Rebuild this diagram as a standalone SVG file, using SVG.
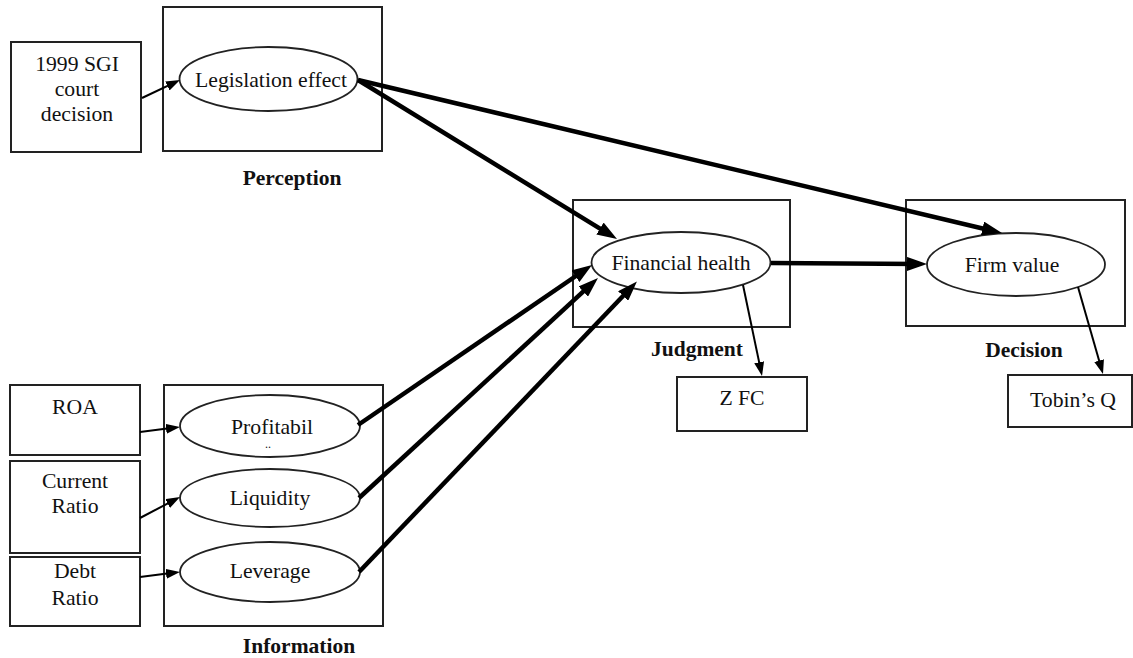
<svg xmlns="http://www.w3.org/2000/svg" width="1133" height="658" viewBox="0 0 1133 658">
<style>
.box{fill:#fff;stroke:#222;stroke-width:2}
.ell{fill:#fff;stroke:#222;stroke-width:1.8}
.t{font-family:"Liberation Serif","Times New Roman",serif;font-size:21.7px;fill:#111;text-anchor:middle}
.b{font-weight:bold;font-size:21.5px}
.thick{fill:none;stroke:#000;stroke-width:4.5;marker-end:url(#ah)}
.thin{fill:none;stroke:#000;stroke-width:2;marker-end:url(#as)}
</style>
<defs>
<marker id="ah" viewBox="0 0 20 14" markerWidth="20" markerHeight="14" refX="12" refY="7" orient="auto" markerUnits="userSpaceOnUse"><path d="M0,0 L20,7 L0,14 z" fill="#000"/></marker>
<marker id="as" viewBox="0 0 14 10" markerWidth="14" markerHeight="10" refX="9" refY="5" orient="auto" markerUnits="userSpaceOnUse"><path d="M0,0 L14,5 L0,10 z" fill="#000"/></marker>
</defs>
<rect width="1133" height="658" fill="#fff"/>

<g id="perception-group">
<rect class="box" x="163" y="7" width="219" height="144"/>
<text class="t b" x="292" y="185">Perception</text>
</g>
<g id="information-group">
<rect class="box" x="164" y="385" width="219" height="241"/>
<text class="t b" x="299" y="653">Information</text>
</g>
<g id="judgment-group">
<rect class="box" x="573" y="200" width="217" height="127"/>
<text class="t b" x="697" y="356">Judgment</text>
</g>
<g id="decision-group">
<rect class="box" x="906" y="200" width="219" height="126"/>
<text class="t b" x="1024" y="357">Decision</text>
</g>

<g id="sgi">
<rect class="box" x="11" y="42" width="130" height="110"/>
<text class="t" x="77" y="71">1999 SGI</text>
<text class="t" x="77" y="96">court</text>
<text class="t" x="77" y="121">decision</text>
</g>
<g id="roa">
<rect class="box" x="10" y="385" width="130" height="70"/>
<text class="t" x="75" y="414">ROA</text>
</g>
<g id="current-ratio">
<rect class="box" x="10" y="461" width="130" height="92"/>
<text class="t" x="75" y="488">Current</text>
<text class="t" x="75" y="513">Ratio</text>
</g>
<g id="debt-ratio">
<rect class="box" x="10" y="557" width="130" height="69"/>
<text class="t" x="75" y="578">Debt</text>
<text class="t" x="75" y="605">Ratio</text>
</g>
<g id="zfc">
<rect class="box" x="677" y="377" width="130" height="54"/>
<text class="t" x="742" y="405">Z FC</text>
</g>
<g id="tobins-q">
<rect class="box" x="1008" y="375" width="124" height="52"/>
<text class="t" x="1073" y="407">Tobin’s Q</text>
</g>

<g id="legislation-effect">
<ellipse class="ell" cx="268.5" cy="79" rx="89" ry="32"/>
<text class="t" x="271" y="87">Legislation effect</text>
</g>
<g id="profitability">
<ellipse class="ell" cx="270" cy="426" rx="90" ry="31"/>
<text class="t" x="272" y="434">Profitabil</text>
<text class="t" x="268" y="448" style="font-size:12px">..</text>
</g>
<g id="liquidity">
<ellipse class="ell" cx="270" cy="498" rx="90" ry="29"/>
<text class="t" x="270" y="505">Liquidity</text>
</g>
<g id="leverage">
<ellipse class="ell" cx="270" cy="572" rx="90" ry="30"/>
<text class="t" x="270" y="578">Leverage</text>
</g>
<g id="financial-health">
<ellipse class="ell" cx="681" cy="262.5" rx="89.5" ry="30.5"/>
<text class="t" x="681" y="270">Financial health</text>
</g>
<g id="firm-value">
<ellipse class="ell" cx="1016" cy="264.5" rx="89" ry="31.5"/>
<text class="t" x="1012" y="272">Firm value</text>
</g>

<g id="connectors">
<path class="thick" d="M358,80 L610.2,234.8"/>
<path class="thick" d="M358,80 L994.2,231.2"/>
<path class="thick" d="M771,263 L919,264"/>
<path class="thick" d="M358,425 L585.4,269.5"/>
<path class="thick" d="M359,498 L592.1,283.4"/>
<path class="thick" d="M359,572 L631.4,287.3"/>
<path class="thin" d="M142,98 L175.5,82.1"/>
<path class="thin" d="M140,432 L175,427.6"/>
<path class="thin" d="M140,518 L175.6,499.3"/>
<path class="thin" d="M140,577 L175,572.6"/>
<path class="thin" d="M743,285 L761,371.1"/>
<path class="thin" d="M1078,287 L1101.6,369.2"/>
</g>
</svg>
